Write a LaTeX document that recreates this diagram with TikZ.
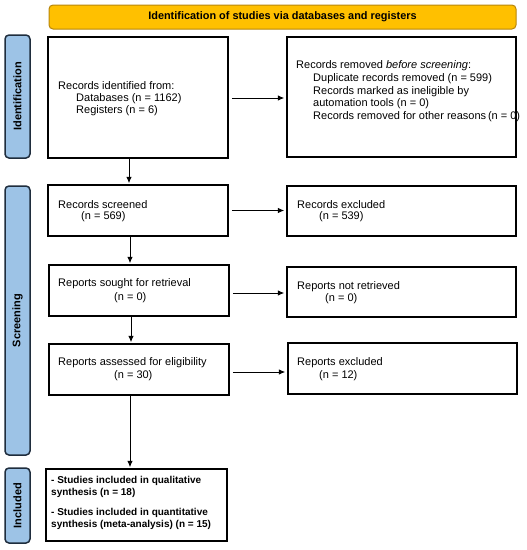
\documentclass[tikz,border=0pt]{standalone}
\usepackage{fontspec}
\setmainfont{Liberation Sans}
\usetikzlibrary{arrows.meta}
\definecolor{bannerfill}{HTML}{FFC000}
\definecolor{bannerdraw}{HTML}{B8860B}
\definecolor{sidefill}{HTML}{9DC3E6}
\definecolor{sidedraw}{HTML}{1F2D3D}
\tikzset{
  box/.style={draw=black, line width=1.5pt, fill=white, rectangle, inner sep=0pt},
  banner/.style={draw=bannerdraw, line width=1pt, fill=bannerfill, rounded corners=4pt, inner sep=0pt,
    font=\bfseries\fontsize{10.9}{13}\selectfont},
  side/.style={draw=sidedraw, line width=1.5pt, fill=sidefill, rounded corners=4pt, inner sep=0pt},
  sidetxt/.style={rotate=90, inner sep=0pt, font=\bfseries\fontsize{11}{13}\selectfont},
  txt/.style={anchor=west, inner sep=0pt, font=\fontsize{11}{12.6}\selectfont},
  btxt/.style={anchor=west, inner sep=0pt, font=\bfseries\fontsize{10}{12}\selectfont},
  arr/.style={-{Latex[length=6.5pt,width=5.5pt]}, line width=0.9pt, black},
}
\begin{document}
\begin{tikzpicture}[x=1pt,y=-1pt]
\useasboundingbox[fill=white] (0,0) rectangle (527,550);

% banner
\node[banner, minimum width=467pt, minimum height=24pt] (ban) at (282.5,17) {Identification of studies via databases and registers};

% side labels
\node[side, minimum width=25pt, minimum height=123pt] (sid) at (17.5,96.5) {};
\node[sidetxt] (sidt) at (sid.center) {Identification};
\node[side, minimum width=25pt, minimum height=269pt] (sscr) at (17.5,320.5) {};
\node[sidetxt] (sscrt) at (sscr.center) {Screening};
\node[side, minimum width=25pt, minimum height=75pt] (sinc) at (17.5,505.5) {};
\node[sidetxt] (sinct) at (sinc.center) {Included};

% boxes
\node[box, minimum width=180pt, minimum height=121pt] (id) at (138,97.5) {};
\node[box, minimum width=229pt, minimum height=120pt] (rem) at (401.5,97) {};
\node[box, minimum width=180pt, minimum height=51pt] (scr) at (138,210.5) {};
\node[box, minimum width=229pt, minimum height=50pt] (exc) at (401.5,211) {};
\node[box, minimum width=180pt, minimum height=51pt] (sou) at (139,290.5) {};
\node[box, minimum width=229pt, minimum height=50pt] (ret) at (401.5,292) {};
\node[box, minimum width=180pt, minimum height=51pt] (ass) at (139,369.5) {};
\node[box, minimum width=229pt, minimum height=51pt] (rex) at (402.5,368.5) {};
\node[box, minimum width=181pt, minimum height=72pt] (inc) at (136.5,505) {};

% texts
\node[txt] (t1) at (58,86) {Records identified from:};
\node[txt] (t2) at (76,99) {Databases (n = 1162)};
\node[txt] (t3) at (76,111) {Registers (n = 6)};

\node[txt] (r1) at (296,66) {Records removed \textit{before screening}:};
\node[txt] (r2) at (313,79) {Duplicate records removed (n = 599)};
\node[txt] (r3) at (313,92) {Records marked as ineligible by};
\node[txt] (r4) at (313,104) {automation tools (n = 0)};
\node[txt] (r5) at (313,117) {Records removed for other reasons\,(n = 0)};

\node[txt] (s1) at (58,205) {Records screened};
\node[txt] (s2) at (81,217) {(n = 569)};
\node[txt] (e1) at (297,205) {Records excluded};
\node[txt] (e2) at (319,217) {(n = 539)};

\node[txt] (o1) at (58,284) {Reports sought for retrieval};
\node[txt] (o2) at (114,298) {(n = 0)};
\node[txt] (n1) at (297,287) {Reports not retrieved};
\node[txt] (n2) at (325,299) {(n = 0)};

\node[txt] (a1) at (58,363) {Reports assessed for eligibility};
\node[txt] (a2) at (114,376) {(n = 30)};
\node[txt] (x1) at (297,363) {Reports excluded};
\node[txt] (x2) at (319,376) {(n = 12)};

\node[btxt] (i1) at (51,481) {- Studies included in qualitative};
\node[btxt] (i2) at (51,493) {synthesis (n = 18)};
\node[btxt] (i3) at (51,513) {- Studies included in quantitative};
\node[btxt] (i4) at (51,525) {synthesis (meta-analysis) (n = 15)};

% arrow anchor points
\coordinate (h1) at ([yshift=-0.5pt]id.east);
\coordinate (h2) at (scr.east);
\coordinate (h3) at ([yshift=-2.5pt]sou.east);
\coordinate (h4) at ([yshift=-2.5pt]ass.east);
\coordinate (v1) at ([xshift=-9pt]id.south);
\coordinate (v2) at ([xshift=-8pt]scr.south);
\coordinate (v3) at ([xshift=-8pt]sou.south);
\coordinate (v4) at ([xshift=-9pt]ass.south);

% horizontal arrows
\draw[arr, shorten <=3pt, shorten >=2pt] (h1) -- (rem.west |- h1);
\draw[arr, shorten <=3pt, shorten >=2pt] (h2) -- (exc.west |- h2);
\draw[arr, shorten <=3pt, shorten >=2pt] (h3) -- (ret.west |- h3);
\draw[arr, shorten <=3pt, shorten >=2pt] (h4) -- (rex.west |- h4);

% vertical arrows
\draw[arr, shorten >=1pt] (v1) -- (v1 |- scr.north);
\draw[arr, shorten >=1pt] (v2) -- (v2 |- sou.north);
\draw[arr, shorten >=1pt] (v3) -- (v3 |- ass.north);
\draw[arr, shorten >=1pt] (v4) -- (v4 |- inc.north);
\end{tikzpicture}
\end{document}
